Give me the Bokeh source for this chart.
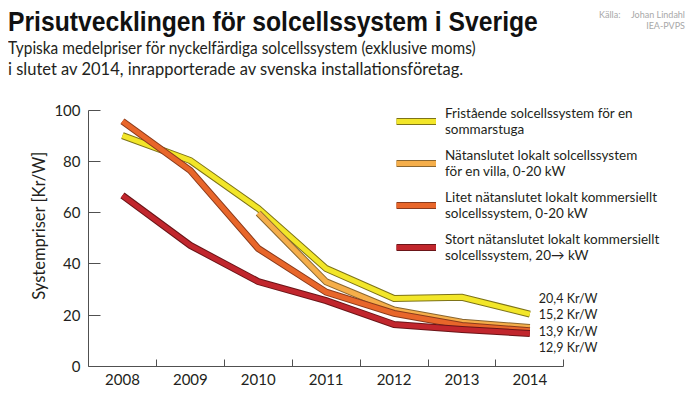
from bokeh.plotting import figure
from bokeh.layouts import column
from bokeh.models import FixedTicker, Label, Legend, LegendItem, Range1d, Div
from bokeh.embed import file_html
from bokeh.resources import INLINE

years = [2008, 2009, 2010, 2011, 2012, 2013, 2014]
fristaende = [90, 80.3, 61.6, 38.2, 26.5, 27.0, 20.4]
villa_years = [2010, 2011, 2012, 2013, 2014]
villa = [59.8, 33.0, 22.0, 17.3, 15.2]
litet = [95.6, 76.4, 46.0, 29.0, 20.7, 16.0, 13.9]
stort = [66.7, 47.2, 33.1, 25.7, 16.4, 14.4, 12.9]
y_ticks = [0, 20, 40, 60, 80, 100]

series_names = [
    "Fristående solcellssystem för en\nsommarstuga",
    "Nätanslutet lokalt solcellssystem\nför en villa, 0-20 kW",
    "Litet nätanslutet lokalt kommersiellt\nsolcellssystem, 0-20 kW",
    "Stort nätanslutet lokalt kommersiellt\nsolcellssystem, 20\u2192 kW",
]
fill_colors = ["#f2e629", "#f5ae4a", "#e8662a", "#c1262d"]
edge_colors = ["#7d7318", "#8a6630", "#8a3b1c", "#6b1518"]

title = "Prisutvecklingen för solcellssystem i Sverige"
subtitle = ["Typiska medelpriser för nyckelfärdiga solcellssystem (exklusive moms)",
            "i slutet av 2014, inrapporterade av svenska installationsföretag."]
source_label = "Källa:"
source_lines = ["Johan Lindahl", "IEA-PVPS"]

FONT = "Lato"
HEAD_H = 84          # height of the heading block
PX_PER_YEAR = 67.9
FRAME_LEFT = 88
FRAME_BOTTOM = 366
Y100_PX = 109.5


def squeeze(text, k):
    return (f'<span style="display:inline-block;transform:scaleX({k});'
            f'transform-origin:0 50%;">{text}</span>')


# ---------- heading (title, subtitle, source) ----------
html = (
    f'<div style="position:relative;width:700px;height:{HEAD_H}px;color:#111;">'
    f'<div style="position:absolute;left:8px;top:6px;white-space:nowrap;'
    f'font-family:\'Liberation Sans\';font-weight:bold;font-size:28px;line-height:32px;">'
    f'{squeeze(title, 0.882)}</div>'
    f'<div style="position:absolute;left:8px;top:38px;white-space:nowrap;color:#231f20;'
    f'font-family:Lato;font-size:16.5px;line-height:21px;">'
    f'{squeeze(subtitle[0], 0.935)}<br>{squeeze(subtitle[1], 1.0)}</div>'
    f'<div style="position:absolute;left:599px;top:9px;white-space:nowrap;color:#a8a8a8;'
    f'font-family:Lato;font-size:9px;line-height:11px;">{source_label}</div>'
    f'<div style="position:absolute;right:15px;top:9px;text-align:right;white-space:nowrap;color:#a8a8a8;'
    f'font-family:Lato;font-size:9px;line-height:11px;">{source_lines[0]}<br>{source_lines[1]}</div>'
    '</div>'
)
head = Div(text=html, width=700, height=HEAD_H, margin=0)

# ---------- chart ----------
fig_h = 407 - HEAD_H
x_end = 2007.5 + (700 - FRAME_LEFT) / PX_PER_YEAR
y_end = 100 * (FRAME_BOTTOM - HEAD_H) / (FRAME_BOTTOM - Y100_PX)

p = figure(width=700, height=fig_h, output_backend="svg", toolbar_location=None,
           x_range=Range1d(2007.5, x_end), y_range=Range1d(0, y_end),
           min_border_left=FRAME_LEFT, min_border_right=0, min_border_top=0,
           min_border_bottom=407 - FRAME_BOTTOM, margin=0)
p.outline_line_color = None
p.grid.grid_line_color = None

p.xaxis.ticker = FixedTicker(ticks=years, minor_ticks=[y + 0.5 for y in years])
p.xaxis.bounds = (2007.5, 2014.5)
p.xaxis.major_tick_in = 0
p.xaxis.major_tick_out = 0
p.xaxis.minor_tick_in = 7
p.xaxis.minor_tick_out = 0
p.yaxis.ticker = FixedTicker(ticks=y_ticks, minor_ticks=[])
p.yaxis.bounds = (0, 100)
p.yaxis.major_tick_in = 12
p.yaxis.major_tick_out = 0
p.yaxis.minor_tick_in = 0
p.yaxis.minor_tick_out = 0
for ax in (p.xaxis, p.yaxis):
    ax.axis_line_color = "#505050"
    ax.major_tick_line_color = "#505050"
    ax.minor_tick_line_color = "#505050"
    ax.major_label_text_font = FONT
    ax.major_label_text_font_size = "15px"
    ax.major_label_text_color = "#231f20"
p.xaxis.major_label_standoff = 7
p.yaxis.major_label_standoff = 8
p.yaxis.axis_label = "Systempriser [Kr/W]"
p.yaxis.axis_label_text_font = FONT
p.yaxis.axis_label_text_font_size = "16.5px"
p.yaxis.axis_label_text_font_style = "normal"
p.yaxis.axis_label_text_color = "#231f20"
p.yaxis.axis_label_standoff = 2

data = [(years, fristaende), (villa_years, villa), (years, litet), (years, stort)]
items = []
for (xs, ys), name, fc, ec in zip(data, series_names, fill_colors, edge_colors):
    o = p.line(xs, ys, line_color=ec, line_width=7, line_join="miter")
    f = p.line(xs, ys, line_color=fc, line_width=5, line_join="miter")
    items.append(LegendItem(label=name, renderers=[o, f]))

legend = Legend(items=items, location=(308, 103), glyph_width=40, glyph_height=14,
                label_text_font=FONT, label_text_font_size="13.5px", label_text_color="#231f20",
                label_standoff=9, spacing=10, padding=0, margin=0,
                border_line_color=None, background_fill_alpha=0)
p.add_layout(legend)

ends = [fristaende[-1], villa[-1], litet[-1], stort[-1]]
for i, v in enumerate(ends):
    p.add_layout(Label(x=years[-1], y=26.5, x_offset=9, y_offset=-16.3 * i,
                       text=("%.1f" % v).replace(".", ",") + " Kr/W",
                       text_font=FONT, text_font_size="12.5px", text_color="#231f20",
                       text_baseline="middle", text_align="left"))

layout = column(head, p, spacing=0, margin=0)
open("out.html", "w").write(file_html(layout, INLINE))
